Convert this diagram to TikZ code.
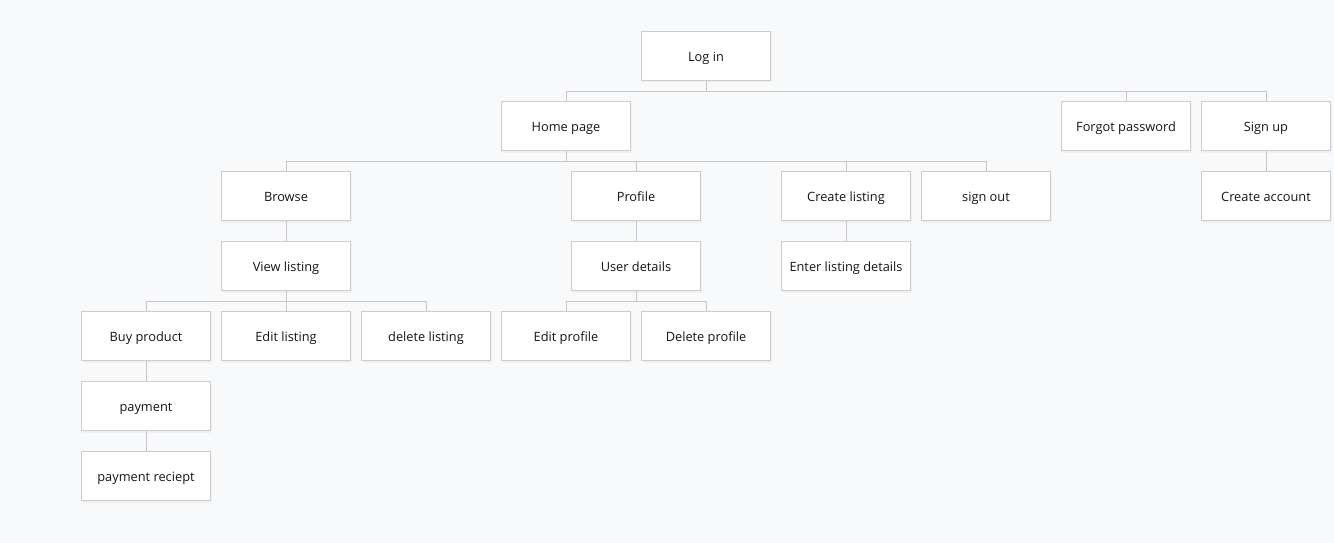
\documentclass[tikz,border=0pt]{standalone}
\usepackage{fontspec}
\setmainfont{Open Sans}
\usepackage{tikz}
\usetikzlibrary{calc,shadows}
\definecolor{pagebg}{RGB}{248,249,251}
\definecolor{boxline}{RGB}{204,204,204}
\definecolor{linkgray}{RGB}{198,198,198}
\definecolor{textdark}{RGB}{20,20,28}
\tikzstyle{Page}=[shape=rectangle,draw=boxline,fill=white,line width=1pt,minimum width=129pt,minimum height=49pt,inner sep=0pt,text height=12pt,text depth=1.5pt,text=textdark,font=\fontsize{12.8}{15}\selectfont,drop shadow={opacity=0.07,shadow xshift=1pt,shadow yshift=-2pt}]
\tikzstyle{link}=[draw=linkgray,line width=0.9pt]

\begin{document}
\begin{tikzpicture}[x=1pt,y=-1pt]

\fill[pagebg] (0,0) rectangle (1334,543);
\useasboundingbox (0,0) rectangle (1334,543);

\node[Page] (LOGIN) at (706,56){Log in};

\node[Page] (HOME) at (566,126){Home page};
\node[Page] (FORGOT) at (1126,126){Forgot password};
\node[Page] (SIGNUP) at (1266,126){Sign up};

\node[Page] (BROWSE) at (286,196){Browse};
\node[Page] (PROFILE) at (636,196){Profile};
\node[Page] (CREATE) at (846,196){Create listing};
\node[Page] (SIGNOUT) at (986,196){sign out};
\node[Page] (ACCOUNT) at (1266,196){Create account};

\node[Page] (VIEW) at (286,266){View listing};
\node[Page] (DETAILS) at (636,266){User details};
\node[Page] (ENTER) at (846,266){Enter listing details};

\node[Page] (BUY) at (146,336){Buy product};
\node[Page] (EDITL) at (286,336){Edit listing};
\node[Page] (DELL) at (426,336){delete listing};
\node[Page] (EDITP) at (566,336){Edit profile};
\node[Page] (DELP) at (706,336){Delete profile};

\node[Page] (PAY) at (146,406){payment};

\node[Page] (RECEIPT) at (146,476){payment reciept};

% tree connectors
\foreach \child in {HOME,FORGOT,SIGNUP}
  \draw[link] (LOGIN.south) -- ++(0,10) -| (\child.north);
\foreach \child in {BROWSE,PROFILE,CREATE,SIGNOUT}
  \draw[link] (HOME.south) -- ++(0,10) -| (\child.north);
\foreach \child in {BUY,EDITL,DELL}
  \draw[link] (VIEW.south) -- ++(0,10) -| (\child.north);
\foreach \child in {EDITP,DELP}
  \draw[link] (DETAILS.south) -- ++(0,10) -| (\child.north);

\path
(SIGNUP) edge [link] (ACCOUNT)
(BROWSE) edge [link] (VIEW)
(PROFILE) edge [link] (DETAILS)
(CREATE) edge [link] (ENTER)
(BUY) edge [link] (PAY)
(PAY) edge [link] (RECEIPT);

\end{tikzpicture}
\end{document}
